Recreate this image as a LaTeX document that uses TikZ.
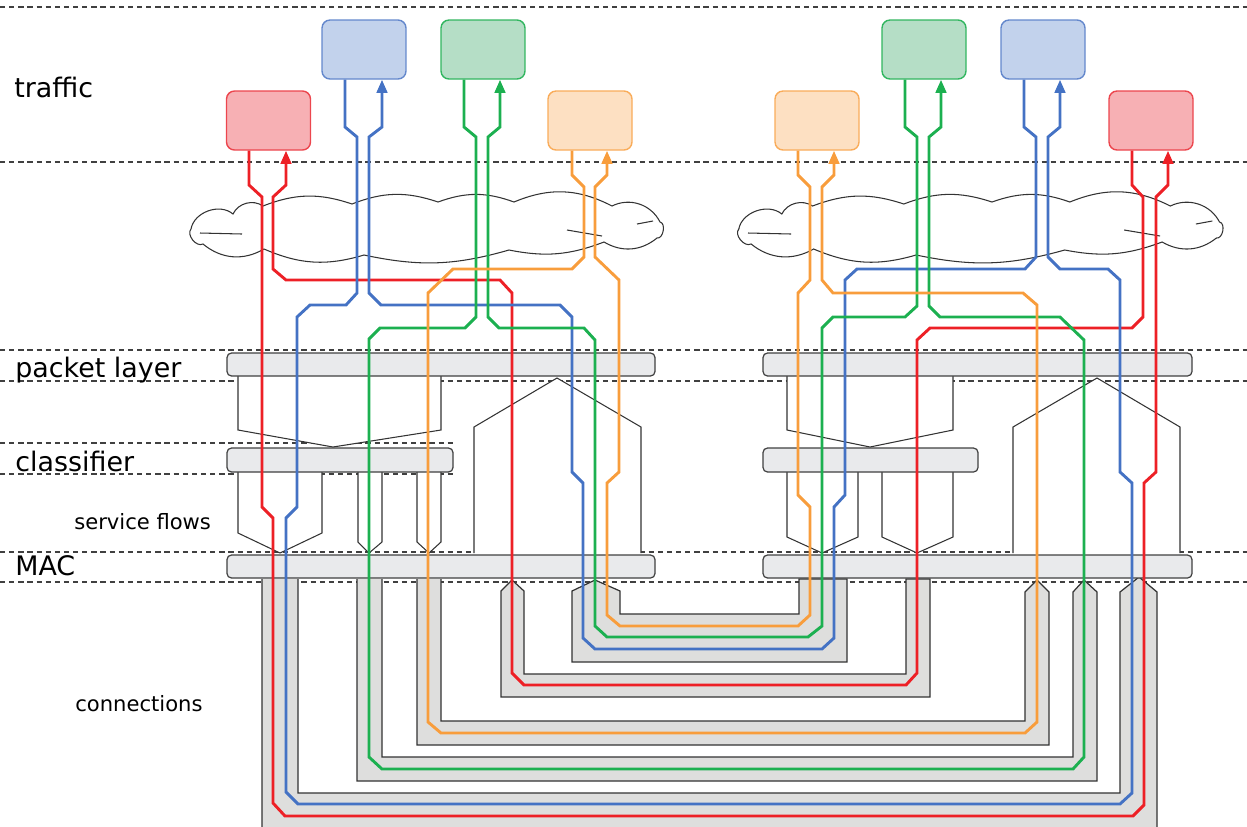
\documentclass[tikz,border=0pt]{standalone}
\usepackage{fontspec}
\setmainfont{DejaVu Sans}
\usetikzlibrary{arrows.meta}

\definecolor{redln}{RGB}{237,32,38}
\definecolor{blueln}{RGB}{68,114,196}
\definecolor{greenln}{RGB}{28,176,80}
\definecolor{orangeln}{RGB}{248,157,60}
\definecolor{redfl}{RGB}{247,176,180}
\definecolor{bluefl}{RGB}{194,210,236}
\definecolor{greenfl}{RGB}{181,222,198}
\definecolor{orangefl}{RGB}{253,224,194}
\definecolor{redbd}{RGB}{236,70,78}
\definecolor{bluebd}{RGB}{100,136,204}
\definecolor{greenbd}{RGB}{50,182,96}
\definecolor{orangebd}{RGB}{249,172,90}
\definecolor{bargray}{RGB}{233,234,236}
\definecolor{pipegray}{RGB}{222,222,221}

\tikzset{
  src/.style={draw, rounded corners=0.16cm, minimum width=1.68cm, minimum height=1.18cm,
    line width=0.8pt, inner sep=0pt},
  flow/.style={line width=1.65pt},
  arrowend/.style={-{Triangle[length=7.5pt,width=6pt]}},
  layer/.style={draw=black!75, dash pattern=on 3pt off 2.2pt, line width=0.75pt},
  bar/.style={draw=black!75, fill=bargray, rounded corners=0.09cm, line width=0.7pt},
  pipe/.style={draw=black!80, fill=pipegray, line width=0.7pt},
  outline/.style={draw=black!80, fill=white, line width=0.6pt},
  cloudline/.style={draw=black!80, fill=white, line width=0.6pt},
  lab/.style={anchor=base west, inner sep=0pt, font=\fontsize{15.3}{17}\selectfont},
  sublab/.style={anchor=base west, inner sep=0pt, font=\fontsize{12}{14}\selectfont},
}

\begin{document}
\begin{tikzpicture}[x=0.02cm, y=-0.02cm]
  \useasboundingbox (0,0) rectangle (1247,826);
  \clip (0,0) rectangle (1247,826);

  % layer borders
  \foreach \y in {7,162,350,381,552,582}
    \draw[layer] (0,\y) -- (1247,\y);
  \foreach \y in {443,474}
    \draw[layer] (0,\y) -- (453,\y);

  % labels
  \node[lab] (traffic) at (14,97) {traffic};
  \node[lab] (packet) at (15,377) {packet layer};
  \node[lab] (classif) at (15,471) {classifier};
  \node[sublab] (sflows) at (74,529) {service flows};
  \node[lab] (mac) at (15,575) {MAC};
  \node[sublab] (conns) at (75,711) {connections};

  % clouds
  \foreach \dx/\sx in {0/1,543/1.025}{
    \begin{scope}[shift={(\dx,0)}, xscale=\sx]
      \draw[cloudline] (191,229) to[bend left=60] (233,214) to[bend left=50] (263,206)
        to[bend left=20] (352,204) to[bend left=20] (438,202) to[bend left=20] (514,202)
        to[bend left=25] (612,206) to[bend left=45] (660,222) to[bend left=90] (657,238)
        to[bend left=35] (604,242) to[bend left=16] (509,250) to[bend left=14] (364,255)
        to[bend left=20] (264,249) to[bend left=35] (203,244) to[bend left=80] cycle;
      \draw[cloudline] (200,233) -- (242,234);
      \draw[cloudline] (567,230) -- (602,236);
      \draw[cloudline] (637,224) -- (653,221);
    \end{scope}
  }

  % connections
  \draw[pipe] (262,579) -- (262,840) -- (1157,840) -- (1157,592) -- (1139,577) -- (1120,592)
    -- (1120,793) -- (298,793) -- (298,579);
  \draw[pipe] (357,579) -- (357,781) -- (1097,781) -- (1097,592) -- (1084,580) -- (1073,592)
    -- (1073,757) -- (382,757) -- (382,579);
  \draw[pipe] (417,579) -- (417,745) -- (1049,745) -- (1049,592) -- (1037,580) -- (1025,592)
    -- (1025,721) -- (441,721) -- (441,579);
  \draw[pipe] (501,591) -- (501,697) -- (930,697) -- (930,579) -- (906,579) -- (906,674)
    -- (524,674) -- (524,591) -- (512,580) -- cycle;
  \draw[pipe] (572,591) -- (572,662) -- (847,662) -- (847,579) -- (799,579) -- (799,614)
    -- (620,614) -- (620,591) -- (595,580) -- cycle;

  % packet layer to classifier
  \foreach \a/\b/\m in {238/441/333,787/953/870}
    \draw[outline] (\a,376) -- (\a,430) -- (\m,447) -- (\b,430) -- (\b,376);
  % packet layer to MAC
  \foreach \a/\b/\m in {474/641/557,1013/1180/1097}
    \draw[outline] (\a,553) -- (\a,427) -- (\m,378) -- (\b,427) -- (\b,553);
  % service flows
  \foreach \a/\b/\c/\m in {238/322/533/280,358/382/542/369,417/441/542/429,
                           787/858/537/822,882/953/537/917}
    \draw[outline] (\a,472) -- (\a,\c) -- (\m,553) -- (\b,\c) -- (\b,472);

  % layer bars
  \foreach \a/\b in {227/655,763/1192}{
    \draw[bar] (\a,353) rectangle (\b,376);
    \draw[bar] (\a,555) rectangle (\b,578);
  }
  \draw[bar] (227,448) rectangle (453,472);
  \draw[bar] (763,448) rectangle (978,472);

  % traffic sources
  \node[src, draw=redbd, fill=redfl] (rL) at (268.5,120.5) {};
  \node[src, draw=bluebd, fill=bluefl] (bL) at (364,49.5) {};
  \node[src, draw=greenbd, fill=greenfl] (gL) at (483,49.5) {};
  \node[src, draw=orangebd, fill=orangefl] (oL) at (590,120.5) {};
  \node[src, draw=orangebd, fill=orangefl] (oR) at (817,120.5) {};
  \node[src, draw=greenbd, fill=greenfl] (gR) at (924,49.5) {};
  \node[src, draw=bluebd, fill=bluefl] (bR) at (1043,49.5) {};
  \node[src, draw=redbd, fill=redfl] (rR) at (1151,120.5) {};

  % red
  \draw[flow, redln, arrowend] (249,0 |- rL.south) -- (249,185) -- (262,197) -- (262,507)
    -- (273,518) -- (273,803) -- (285,816) -- (1133,816) -- (1144,805) -- (1144,483)
    -- (1156,472) -- (1156,197) -- (1168,185) -- (1168,0 |- rR.south);
  \draw[flow, redln, arrowend] (1132,0 |- rR.south) -- (1132,185) -- (1143,197) -- (1143,317)
    -- (1132,328) -- (930,328) -- (917,340) -- (917,673) -- (906,685) -- (524,685)
    -- (512,673) -- (512,293) -- (500,280) -- (286,280) -- (273,269) -- (273,197)
    -- (286,185) -- (286,0 |- rL.south);
  % blue
  \draw[flow, blueln, arrowend] (345,0 |- bL.south) -- (345,127) -- (357,137) -- (357,293)
    -- (346,305) -- (310,305) -- (297,317) -- (297,507) -- (286,518) -- (286,792)
    -- (298,804) -- (1120,804) -- (1132,793) -- (1132,483) -- (1120,472) -- (1120,280)
    -- (1108,269) -- (1060,269) -- (1048,257) -- (1048,137) -- (1060,127) -- (1060,0 |- bR.south);
  \draw[flow, blueln, arrowend] (1024,0 |- bR.south) -- (1024,127) -- (1036,137) -- (1036,257)
    -- (1025,269) -- (857,269) -- (845,280) -- (845,495) -- (834,507) -- (834,638)
    -- (822,649) -- (595,649) -- (583,638) -- (583,483) -- (572,472) -- (572,317)
    -- (560,305) -- (381,305) -- (369,293) -- (369,137) -- (382,127) -- (382,0 |- bL.south);
  % green
  \draw[flow, greenln, arrowend] (464,0 |- gL.south) -- (464,127) -- (476,137) -- (476,317)
    -- (465,328) -- (380,328) -- (369,339) -- (369,757) -- (382,769) -- (1073,769)
    -- (1084,757) -- (1084,340) -- (1060,317) -- (940,317) -- (929,306) -- (929,137)
    -- (941,127) -- (941,0 |- gR.south);
  \draw[flow, greenln, arrowend] (905,0 |- gR.south) -- (905,127) -- (917,137) -- (917,306)
    -- (905,317) -- (833,317) -- (822,328) -- (822,626) -- (808,637) -- (607,637)
    -- (595,626) -- (595,340) -- (584,328) -- (499,328) -- (488,317) -- (488,137)
    -- (500,127) -- (500,0 |- gL.south);
  % orange
  \draw[flow, orangeln, arrowend] (572,0 |- oL.south) -- (572,175) -- (584,187) -- (584,257)
    -- (572,269) -- (453,269) -- (428,293) -- (428,722) -- (441,733) -- (1025,733)
    -- (1037,722) -- (1037,305) -- (1023,293) -- (833,293) -- (822,280) -- (822,187)
    -- (834,175) -- (834,0 |- oR.south);
  \draw[flow, orangeln, arrowend] (798,0 |- oR.south) -- (798,175) -- (810,187) -- (810,280)
    -- (798,293) -- (798,495) -- (810,507) -- (810,615) -- (798,626) -- (620,626)
    -- (607,615) -- (607,483) -- (619,472) -- (619,280) -- (595,257) -- (595,187)
    -- (607,175) -- (607,0 |- oL.south);
\end{tikzpicture}
\end{document}
